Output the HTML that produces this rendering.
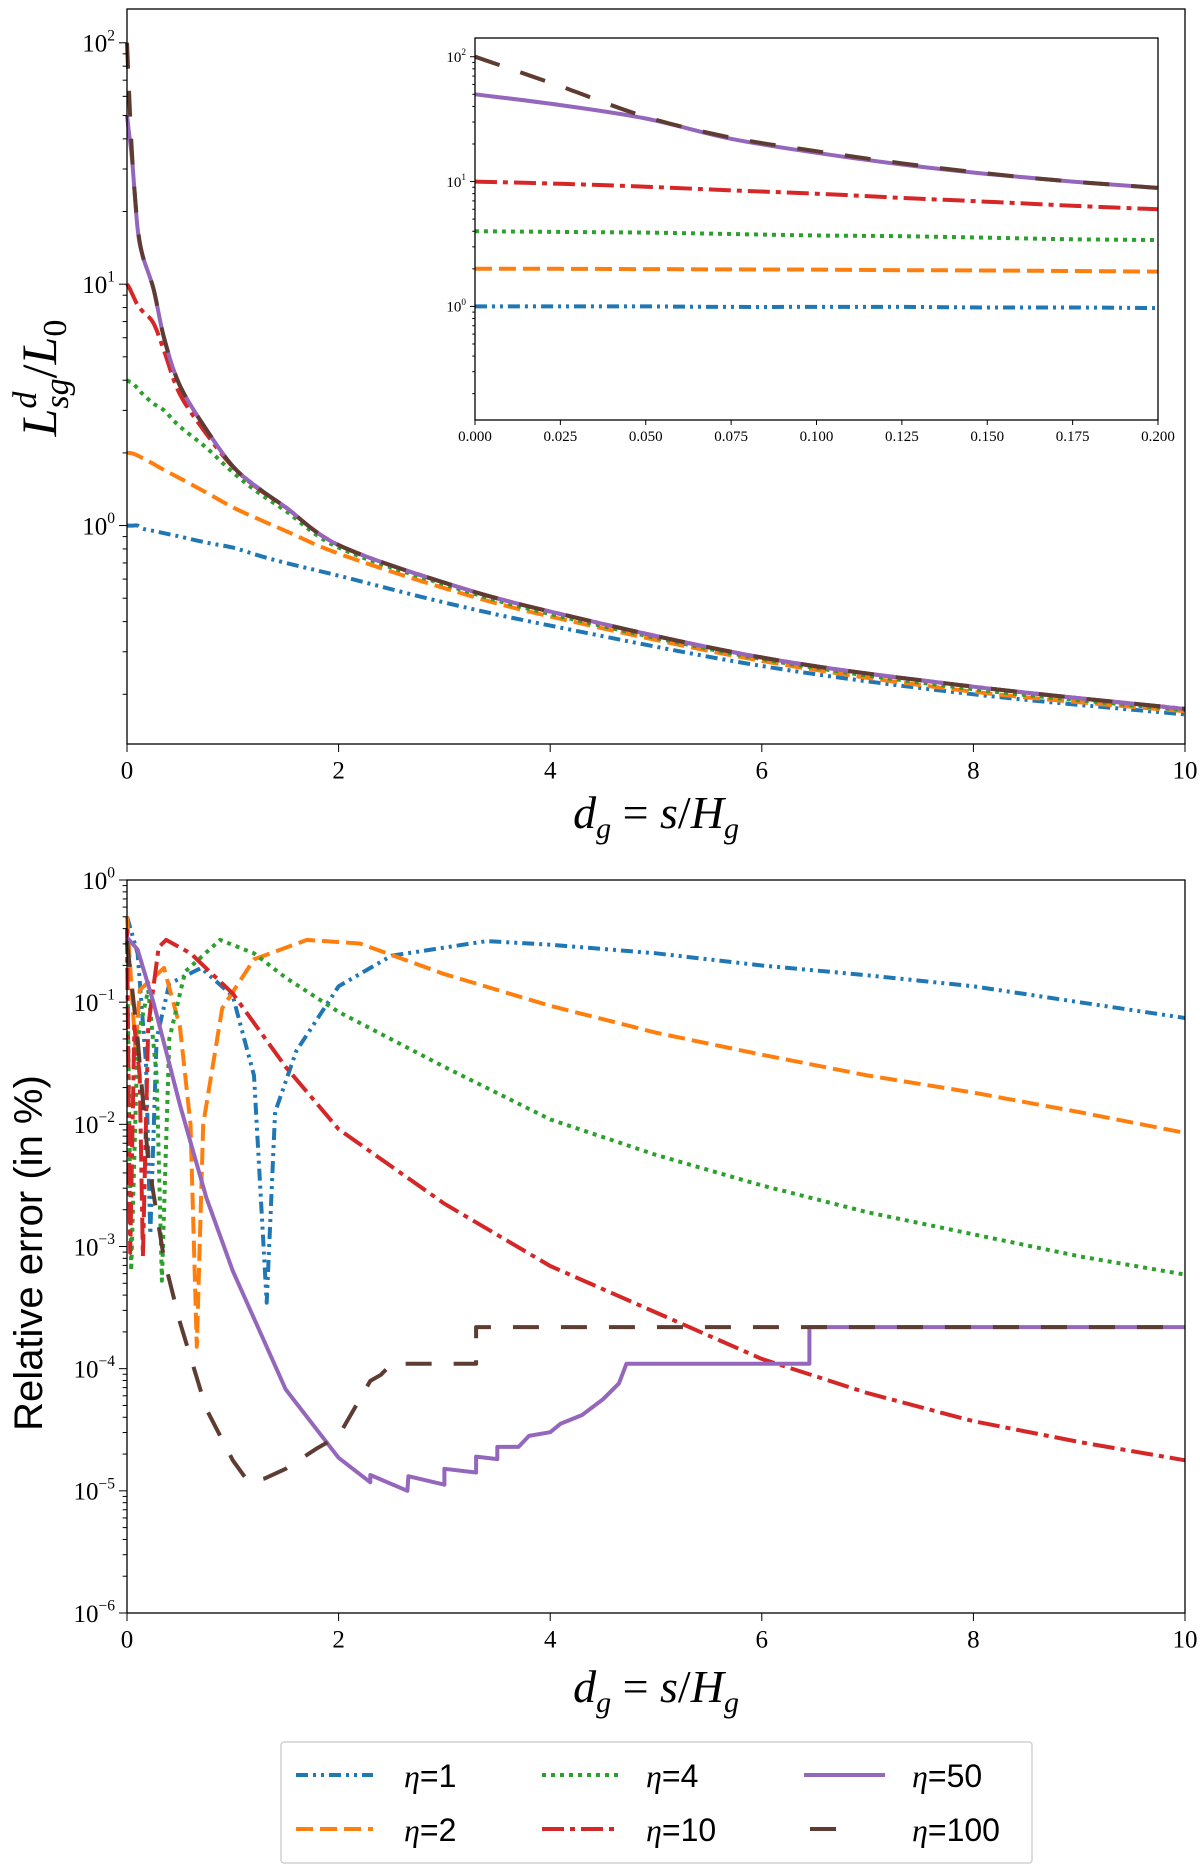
<!DOCTYPE html>
<html><head><meta charset="utf-8"><style>
html,body{margin:0;padding:0;background:#fff}
svg{display:block}
text{font-family:"Liberation Serif",serif;fill:#000}
</style></head><body>
<svg id="fig" width="1200" height="1866" viewBox="0 0 1200 1866" xmlns="http://www.w3.org/2000/svg"></svg>
<script>
// ---------- data ----------
const etaLabels=["1","2","4","10","50","100"];
const mainD=[0,0.02,0.05,0.1,0.15,0.25,0.35,0.5,0.75,1,1.25,1.5,2,3,4,6,8,10];
const mainBlue=[1,1,1,1,0.97,0.95,0.93,0.9,0.85,0.81,0.75,0.7,0.62,0.48,0.385,0.262,0.2,0.165];
const mainOrange=[2,2,1.99,1.95,1.9,1.8,1.7,1.57,1.37,1.19,1.06,0.95,0.765,0.55,0.42,0.275,0.205,0.17];
const mainGreen=[4,3.95,3.9,3.7,3.5,3.2,3.0,2.57,2.1,1.66,1.36,1.15,0.81,0.57,0.43,0.28,0.21,0.172];
const mainRed=[10,9.7,9.1,8.2,7.7,6.9,5.3,3.5,2.4,1.75,1.41,1.19,0.83,0.58,0.44,0.284,0.215,0.174];
const mainPurple=[50,42,32,17,13,9.6,6,3.8,2.5,1.76,1.42,1.19,0.83,0.58,0.44,0.284,0.215,0.174];
const mainBrown=[100,62,33,17.5,13,9.6,6,3.8,2.5,1.76,1.42,1.19,0.83,0.58,0.44,0.284,0.215,0.174];
const insetD=[0,0.025,0.05,0.075,0.1,0.125,0.15,0.175,0.2];
const insetBlue=[1,1,1,0.99,0.99,0.99,0.98,0.98,0.97];
const insetOrange=[2,2,1.99,1.98,1.97,1.95,1.94,1.92,1.9];
const insetGreen=[4,3.95,3.9,3.8,3.7,3.65,3.55,3.45,3.4];
const insetRed=[10,9.6,9.1,8.5,8.0,7.4,6.9,6.4,6.0];
const insetPurple=[50,41,32,22,17,13.7,11.5,10,8.9];
const insetBrown=[100,58,33,22.5,17.5,14,11.6,10,8.9];
// relative error: x values and log10(error) values
const errBlueD=[0,0.1,0.18,0.22,0.28,0.4,0.7,1.0,1.2,1.32,1.4,1.6,2,2.5,3.4,4,5,6,7,8,9,10];
const errBlueL=[-0.3,-0.6,-1.5,-2.9,-1.3,-0.85,-0.72,-0.95,-1.6,-3.46,-1.9,-1.4,-0.87,-0.62,-0.5,-0.53,-0.6,-0.7,-0.78,-0.87,-1.0,-1.13];
const errOrangeD=[0,0.08,0.12,0.35,0.5,0.6,0.66,0.72,0.9,1.2,1.7,2.2,3,4,5,6,7,8,9,10];
const errOrangeL=[-0.3,-1.4,-0.9,-0.72,-1.2,-2,-3.82,-2,-1.05,-0.65,-0.49,-0.52,-0.77,-1.03,-1.25,-1.43,-1.6,-1.74,-1.9,-2.07];
const errGreenD=[0,0.04,0.1,0.2,0.28,0.33,0.4,0.55,0.88,1.2,1.5,2,3,4,5,6,7,8,9,10];
const errGreenL=[-0.5,-3.2,-1.3,-0.9,-1.6,-3.28,-1.3,-0.75,-0.49,-0.6,-0.8,-1.08,-1.53,-1.96,-2.25,-2.5,-2.72,-2.9,-3.08,-3.23];
const errRedD=[0,0.03,0.07,0.12,0.15,0.2,0.3,0.37,0.6,1,1.5,2,3,4,5,6,7,8,9,10];
const errRedL=[-0.4,-3.05,-1.2,-1.6,-3.08,-1.2,-0.55,-0.49,-0.6,-0.93,-1.53,-2.04,-2.65,-3.16,-3.54,-3.92,-4.2,-4.43,-4.6,-4.75];
const errPurpleD=[0,0.1,0.25,0.5,0.75,1,1.5,2,2.3,2.3,2.65,2.66,3.0,3.0,3.3,3.3,3.5,3.5,3.7,3.8,4.0,4.1,4.3,4.5,4.65,4.72,6.45,6.45,10];
const errPurpleL=[-0.47,-0.57,-1.0,-1.84,-2.6,-3.2,-4.17,-4.73,-4.93,-4.87,-5.0,-4.88,-4.95,-4.82,-4.85,-4.72,-4.74,-4.64,-4.64,-4.55,-4.52,-4.45,-4.38,-4.25,-4.12,-3.96,-3.96,-3.66,-3.66];
const errBrownD=[0,0.1,0.2,0.35,0.5,0.75,1.0,1.15,1.3,1.5,1.8,2.0,2.3,2.4,2.5,3.3,3.3,10];
const errBrownL=[-0.5,-1.3,-2.3,-3.1,-3.62,-4.33,-4.75,-4.93,-4.9,-4.82,-4.65,-4.55,-4.1,-4.05,-3.96,-3.96,-3.66,-3.66];
const xTicksMain=[0,2,4,6,8,10];
const xTicksInset=["0.000","0.025","0.050","0.075","0.100","0.125","0.150","0.175","0.200"];

const styles=[
 {c:"#1f77b4",d:"12 5 3 5 3 5"},
 {c:"#ff7f0e",d:"17 7"},
 {c:"#2ca02c",d:"4 5"},
 {c:"#d62728",d:"22 6 5 6"},
 {c:"#9467bd",d:""},
 {c:"#5e3c32",d:"26 22"}];

const NS="http://www.w3.org/2000/svg";
const svgRoot=document.getElementById("fig");
function mk(tag,attrs,parent){const e=document.createElementNS(NS,tag);for(const k in attrs)e.setAttribute(k,attrs[k]);(parent||svgRoot).appendChild(e);return e;}

function makeAxes(o){
  const g=mk("g",{});
  
  
  o.g=g;
  o.sx=v=>o.x0+(v-o.xmin)/(o.xmax-o.xmin)*(o.x1-o.x0);
  o.sy=l=>o.y1-(l-o.lmin)/(o.lmax-o.lmin)*(o.y1-o.y0);
  mk("rect",{x:o.x0,y:o.y0,width:o.x1-o.x0,height:o.y1-o.y0,fill:"#fff",stroke:"none"},g);
  return o;
}
function frame(o){
  const r=mk("rect",{x:o.x0,y:o.y0,width:o.x1-o.x0,height:o.y1-o.y0,fill:"none",stroke:"#000","stroke-width":1.3},o.g);
  
  
  for(let d=Math.floor(o.lmin);d<=Math.ceil(o.lmax);d++){
    for(let m=1;m<10;m++){
      const l=d+Math.log10(m); if(l<o.lmin-1e-9||l>o.lmax+1e-9)continue;
      const y=o.sy(l); const len=m===1?o.tl:o.tl*0.55;
      mk("line",{x1:o.x0-len,x2:o.x0,y1:y,y2:y,stroke:"#000","stroke-width":1},o.g);
      if(m===1){
        const t=mk("text",{x:o.x0-o.tl-4,y:y+o.fs*0.35,"font-size":o.fs,"text-anchor":"end"},o.g);
        
        
        t.appendChild(document.createTextNode("10"));
        const s=mk("tspan",{dy:-o.fs*0.45,"font-size":o.fs*0.62},t);s.textContent=(d<0?"\u2212":"")+Math.abs(d);
      }
    }
  }
  o.xt.forEach((lab)=>{
    const v=parseFloat(lab);const x=o.sx(v);
    mk("line",{x1:x,x2:x,y1:o.y1,y2:o.y1+o.tl,stroke:"#000","stroke-width":1},o.g);
    const t=mk("text",{x:x,y:o.y1+o.tl+o.fs*1.05,"font-size":o.fs,"text-anchor":"middle"},o.g);
    
    
    t.textContent=lab;
  });
}
function series(o,xs,ls,st,name,lw,smooth){
  const P=xs.map((x,i)=>[o.sx(x),o.sy(ls[i])]);
  let p="M"+P[0][0].toFixed(1)+","+P[0][1].toFixed(1);
  for(let i=1;i<P.length;i++){
    if(smooth){
      const p0=P[Math.max(0,i-2)],p1=P[i-1],p2=P[i],p3=P[Math.min(P.length-1,i+1)];
      const c1=[p1[0]+(p2[0]-p0[0])/6,p1[1]+(p2[1]-p0[1])/6];
      const c2=[p2[0]-(p3[0]-p1[0])/6,p2[1]-(p3[1]-p1[1])/6];
      p+="C"+c1[0].toFixed(1)+","+c1[1].toFixed(1)+" "+c2[0].toFixed(1)+","+c2[1].toFixed(1)+" "+p2[0].toFixed(1)+","+p2[1].toFixed(1);
    } else p+="L"+P[i][0].toFixed(1)+","+P[i][1].toFixed(1);
  }
  const e=mk("path",{d:p,fill:"none",stroke:st.c,"stroke-width":lw,"stroke-dasharray":st.d,"stroke-linejoin":"round"},o.g);
  
  
}
const lg=a=>a.map(v=>Math.log10(v));

const axTop=makeAxes({name:"top-axes",x0:127,x1:1185,y0:9,y1:744,xmin:0,xmax:10,lmin:-0.905,lmax:2.14,tl:8,fs:25,xt:xTicksMain.map(String)});
[mainBlue,mainOrange,mainGreen,mainRed,mainPurple,mainBrown].forEach((arr,i)=>series(axTop,mainD,lg(arr),styles[i],"top-line-eta-"+etaLabels[i],4,true));
frame(axTop);
const axIns=makeAxes({name:"inset-axes",x0:475,x1:1158,y0:38,y1:420,xmin:0,xmax:0.2,lmin:-0.91,lmax:2.15,tl:5,fs:15,xt:xTicksInset});
[insetBlue,insetOrange,insetGreen,insetRed,insetPurple,insetBrown].forEach((arr,i)=>series(axIns,insetD,lg(arr),styles[i],"inset-line-eta-"+etaLabels[i],4,true));
frame(axIns);
const axBot=makeAxes({name:"bottom-axes",x0:127,x1:1185,y0:880,y1:1613,xmin:0,xmax:10,lmin:-6,lmax:0,tl:8,fs:25,xt:xTicksMain.map(String)});
const errs=[[errBlueD,errBlueL],[errOrangeD,errOrangeL],[errGreenD,errGreenL],[errRedD,errRedL],[errPurpleD,errPurpleL],[errBrownD,errBrownL]];
errs.forEach((s,i)=>series(axBot,s[0],s[1],styles[i],"error-line-eta-"+etaLabels[i],4,false));
frame(axBot);
</script>
<svg style="position:absolute;left:0;top:0" width="1200" height="1866">
  <text x="656" y="828" font-size="46" font-style="italic" text-anchor="middle">d<tspan font-size="30" dy="10">g</tspan><tspan dy="-10" font-style="normal"> = </tspan>s<tspan font-style="normal">/</tspan>H<tspan font-size="30" dy="10">g</tspan></text>
  <text transform="translate(56,378) rotate(-90)" font-size="50" font-style="italic" text-anchor="middle">L<tspan font-size="34" dy="-20">d</tspan><tspan font-size="34" dx="-17" dy="32">sg</tspan><tspan dy="-12" font-style="normal">/</tspan>L<tspan font-size="34" dy="10" font-style="normal">0</tspan></text>
  <text x="656" y="1702" font-size="46" font-style="italic" text-anchor="middle">d<tspan font-size="30" dy="10">g</tspan><tspan dy="-10" font-style="normal"> = </tspan>s<tspan font-style="normal">/</tspan>H<tspan font-size="30" dy="10">g</tspan></text>
  <text transform="translate(42,1253) rotate(-90)" font-size="40" text-anchor="middle" style="font-family:'Liberation Sans',sans-serif">Relative error (in %)</text>
  <g>
    <rect x="281" y="1742" width="751" height="121" fill="#fff" stroke="#d0d0d0" stroke-width="1.5" rx="3"/>
    <g><line x1="296" x2="373" y1="1775" y2="1775" stroke="#1f77b4" stroke-width="4" stroke-dasharray="12 5 3 5 3 5"/><text x="404" y="1787" font-size="32" style="font-family:'Liberation Sans',sans-serif"><tspan font-style="italic" style="font-family:'Liberation Serif',serif">η</tspan>=1</text></g>
    <g><line x1="296" x2="373" y1="1829" y2="1829" stroke="#ff7f0e" stroke-width="4" stroke-dasharray="17 7"/><text x="404" y="1841" font-size="32" style="font-family:'Liberation Sans',sans-serif"><tspan font-style="italic" style="font-family:'Liberation Serif',serif">η</tspan>=2</text></g>
    <g><line x1="542" x2="619" y1="1775" y2="1775" stroke="#2ca02c" stroke-width="4" stroke-dasharray="4 5"/><text x="646" y="1787" font-size="32" style="font-family:'Liberation Sans',sans-serif"><tspan font-style="italic" style="font-family:'Liberation Serif',serif">η</tspan>=4</text></g>
    <g><line x1="542" x2="619" y1="1829" y2="1829" stroke="#d62728" stroke-width="4" stroke-dasharray="22 6 5 6"/><text x="646" y="1841" font-size="32" style="font-family:'Liberation Sans',sans-serif"><tspan font-style="italic" style="font-family:'Liberation Serif',serif">η</tspan>=10</text></g>
    <g><line x1="804" x2="885" y1="1775" y2="1775" stroke="#9467bd" stroke-width="4"/><text x="912" y="1787" font-size="32" style="font-family:'Liberation Sans',sans-serif"><tspan font-style="italic" style="font-family:'Liberation Serif',serif">η</tspan>=50</text></g>
    <g><line x1="810" x2="836" y1="1829" y2="1829" stroke="#5e3c32" stroke-width="4"/><text x="912" y="1841" font-size="32" style="font-family:'Liberation Sans',sans-serif"><tspan font-style="italic" style="font-family:'Liberation Serif',serif">η</tspan>=100</text></g>
  </g>
</svg>
</body></html>
